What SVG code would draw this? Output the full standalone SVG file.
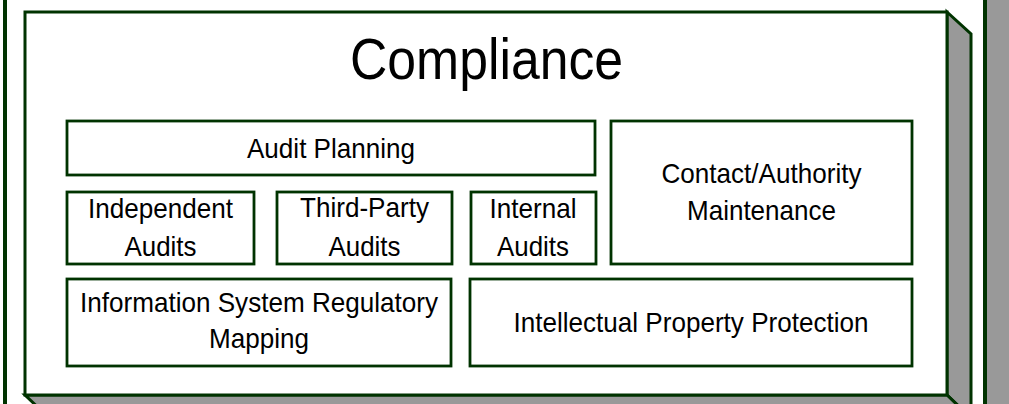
<svg xmlns="http://www.w3.org/2000/svg" width="1009" height="404" viewBox="0 0 1009 404">
<style>
.edge{stroke:#003300;stroke-width:3;stroke-linejoin:miter}
.side{fill:#999999;stroke:#003300;stroke-width:3;stroke-linejoin:miter}
.box{fill:#ffffff;stroke:#003300;stroke-width:2.8}
.lbl{font-family:"Liberation Sans",Arial,sans-serif;font-size:28px;fill:#000000;text-anchor:middle}
.title{font-family:"Liberation Sans",Arial,sans-serif;font-size:58px;fill:#000000;text-anchor:middle}
</style>
<rect x="0" y="0" width="1009" height="404" fill="#ffffff"/>
<g id="outer-box">
  <polygon points="985,-30 1030,-10 1030,440 985,440" class="side" style="stroke-width:4"/>
  <rect x="5" y="-40" width="980" height="500" fill="#ffffff" stroke="#003300" stroke-width="4"/>
</g>
<g id="compliance">
  <polygon points="947,12 971,34 971,418 947,395" class="side"/>
  <polygon points="25,395 947,395 971,418 49,418" class="side"/>
  <rect x="25" y="12" width="922" height="383" fill="#ffffff" class="edge"/>
  <text x="486.5" y="79" class="title" textLength="273" lengthAdjust="spacingAndGlyphs">Compliance</text>
</g>
<g id="audit-planning">
  <rect x="67" y="121" width="528" height="54" class="box"/>
  <text x="331" y="158" class="lbl" textLength="168" lengthAdjust="spacingAndGlyphs">Audit Planning</text>
</g>
<g id="contact-authority-maintenance">
  <rect x="611" y="121" width="301" height="143" class="box"/>
  <text x="761.5" y="182.5" class="lbl" textLength="200" lengthAdjust="spacingAndGlyphs">Contact/Authority</text>
  <text x="761.5" y="220" class="lbl" textLength="149" lengthAdjust="spacingAndGlyphs">Maintenance</text>
</g>
<g id="independent-audits">
  <rect x="67" y="192" width="187" height="72" class="box"/>
  <text x="160.5" y="218" class="lbl" textLength="145" lengthAdjust="spacingAndGlyphs">Independent</text>
  <text x="160.5" y="256" class="lbl" textLength="72" lengthAdjust="spacingAndGlyphs">Audits</text>
</g>
<g id="third-party-audits">
  <rect x="277" y="192" width="175" height="72" class="box"/>
  <text x="364.5" y="217" class="lbl" textLength="129" lengthAdjust="spacingAndGlyphs">Third-Party</text>
  <text x="364.5" y="256" class="lbl" textLength="72" lengthAdjust="spacingAndGlyphs">Audits</text>
</g>
<g id="internal-audits">
  <rect x="471" y="192" width="125" height="72" class="box"/>
  <text x="533" y="218" class="lbl" textLength="87" lengthAdjust="spacingAndGlyphs">Internal</text>
  <text x="533" y="255.5" class="lbl" textLength="72" lengthAdjust="spacingAndGlyphs">Audits</text>
</g>
<g id="information-system-regulatory-mapping">
  <rect x="67" y="279" width="384" height="87" class="box"/>
  <text x="259" y="312" class="lbl" textLength="358" lengthAdjust="spacingAndGlyphs">Information System Regulatory</text>
  <text x="259" y="348" class="lbl" textLength="100" lengthAdjust="spacingAndGlyphs">Mapping</text>
</g>
<g id="intellectual-property-protection">
  <rect x="470" y="279" width="442" height="87" class="box"/>
  <text x="691" y="332" class="lbl" textLength="355" lengthAdjust="spacingAndGlyphs">Intellectual Property Protection</text>
</g>
</svg>
